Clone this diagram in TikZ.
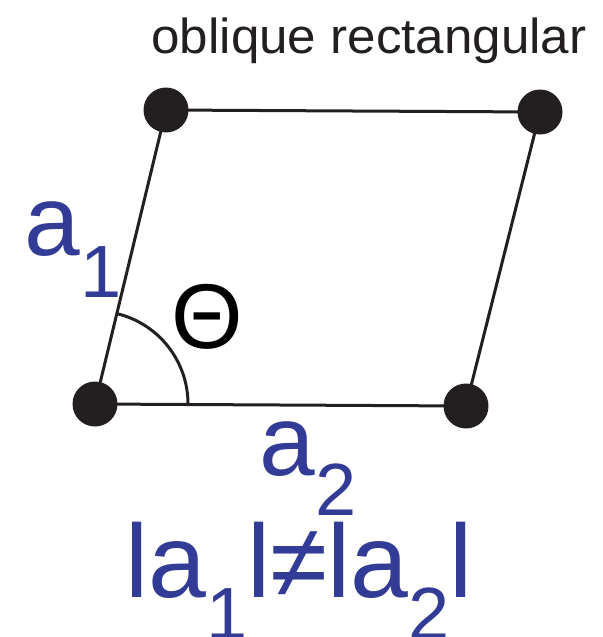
\documentclass[tikz,border=0pt]{standalone}
\usepackage{fontspec}
\setmainfont{Liberation Sans}
\newfontfamily\widesans[FakeStretch=1.04]{Liberation Sans}
\usepackage{xcolor}
\definecolor{latticeblue}{RGB}{50,60,150}
\definecolor{inkblack}{RGB}{35,31,32}
\newcommand{\vecsub}{\fontsize{37}{37}\selectfont}

\begin{document}
\begin{tikzpicture}[
  x=0.5pt, y=-0.5pt,
  site/.style={circle, fill=inkblack, inner sep=0pt, minimum size=22.5pt},
  edge/.style={draw=inkblack, line width=1.5pt},
  veclabel/.style={font=\fontsize{50}{50}\selectfont, text=latticeblue, inner sep=0pt, anchor=base west},
  anglelabel/.style={font=\fontsize{46}{46}\selectfont, text=black, inner sep=0pt, anchor=base}
]
\useasboundingbox (0,0) rectangle (602,637);

\node[font=\widesans\fontsize{24.6}{24.6}\selectfont, text=inkblack, anchor=base west, inner sep=0pt] (title) at (151,53) {oblique rectangular};

% lattice sites
\node[site] (tl) at (166,110) {};
\node[site] (tr) at (540,112) {};
\node[site] (bl) at (95,404) {};
\node[site] (br) at (466,406) {};

\draw[edge] (bl.center) -- (br.center) -- (tr.center) -- (tl.center) -- cycle;
\draw[edge] (bl.center) ++(93,0) arc[start angle=0, end angle=76.4, radius=46.5pt];

\node[veclabel] (a1) at (24,255) {a\raisebox{-21pt}{\vecsub 1}};
\node[anglelabel] (theta) at (207,348) {Θ};
\node[veclabel] (a2) at (259,475) {a\raisebox{-20pt}{\vecsub 2}};
\node[veclabel, font=\fontsize{52}{52}\selectfont] (norms) at (125,597) {la\raisebox{-21pt}{\vecsub 1}l≠la\raisebox{-21pt}{\vecsub 2}l};
\end{tikzpicture}
\end{document}
